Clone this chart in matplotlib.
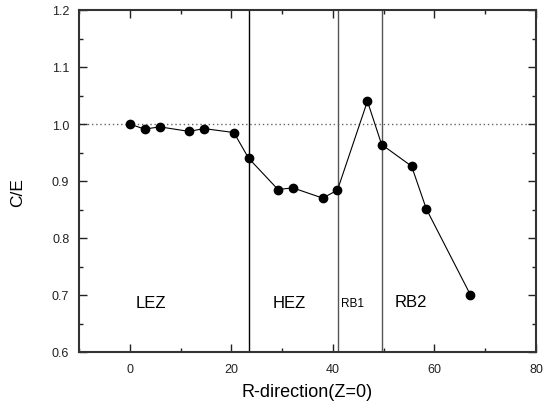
import matplotlib
matplotlib.use("Agg")
import matplotlib.pyplot as plt
from matplotlib.ticker import MultipleLocator, FormatStrFormatter

plt.rcParams['font.family'] = ['Liberation Sans', 'DejaVu Sans']

r_pos = [0.0, 2.9, 5.9, 11.7, 14.6, 20.5, 23.4, 29.2, 32.1, 38.0, 40.9, 46.8, 49.6, 55.5, 58.4, 67.1]
ce = [1.000, 0.991, 0.995, 0.987, 0.992, 0.985, 0.940, 0.885, 0.888, 0.870, 0.884, 1.040, 0.964, 0.926, 0.851, 0.700]
boundaries = [23.5, 41.0, 49.7]
boundary_colors = ['black', '#555555', '#555555']
zone_labels = ['LEZ', 'HEZ', 'RB1', 'RB2']
zone_x = [4.2, 31.4, 43.8, 55.3]
zone_y = [0.686, 0.686, 0.686, 0.688]
zone_sizes = [12, 12, 8.5, 12]

fig = plt.figure(figsize=(5.44, 4.10), dpi=100)
ax = fig.add_axes([79/544, 1-353/410, (536-79)/544, (353-11)/410])

ax.axhline(1.0, color='#666666', linestyle=(0, (1, 2)), linewidth=1.0, zorder=1)
for b, c in zip(boundaries, boundary_colors):
    ax.axvline(b, color=c, linewidth=1.0, zorder=1)
ax.plot(r_pos, ce, color='black', linewidth=0.8, marker='o', markersize=6, zorder=3)

for lab, x, y, s in zip(zone_labels, zone_x, zone_y, zone_sizes):
    ax.text(x, y, lab, fontsize=s, ha='center', va='center')

ax.set_xlim(-10, 80)
ax.set_ylim(0.6, 1.2)
ax.xaxis.set_major_locator(MultipleLocator(20))
ax.xaxis.set_minor_locator(MultipleLocator(10))
ax.yaxis.set_major_locator(MultipleLocator(0.1))
ax.yaxis.set_minor_locator(MultipleLocator(0.05))
ax.yaxis.set_major_formatter(FormatStrFormatter('%.1f'))
ax.tick_params(which='both', direction='in', top=True, right=True, labelsize=9, colors='#222222')
ax.tick_params(which='major', length=6, width=1.0)
ax.tick_params(axis='x', which='major', pad=8)
ax.tick_params(axis='y', which='major', pad=7)
ax.tick_params(which='minor', length=3, width=1.0)
for sp in ax.spines.values():
    sp.set_linewidth(1.5)
    sp.set_color('#333333')

ax.set_xlabel('R-direction(Z=0)', fontsize=13, va='center')
ax.set_ylabel('C/E', fontsize=12.5, va='center')
ax.xaxis.set_label_coords((307-79)/457, (353-393)/342)
ax.yaxis.set_label_coords((18-79)/457, (353-193)/342)

fig.savefig('out.png', dpi=100)
